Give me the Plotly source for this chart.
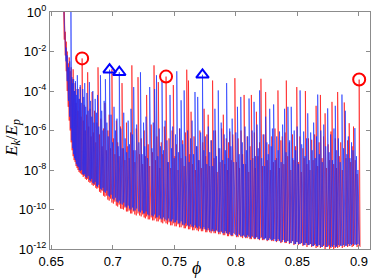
import plotly.graph_objects as go

# ---------------- data (log10 of E_k/E_p) ----------------
red_phi = [
    0.6598, 0.6606, 0.6614, 0.6622, 0.6630, 0.6638, 0.6646, 0.6654, 0.6662, 0.6670,
    0.6678, 0.6686, 0.6694, 0.6702, 0.6710, 0.6718, 0.6726, 0.6735, 0.6743, 0.6751,
    0.6760, 0.6768, 0.6777, 0.6787, 0.6796, 0.6805, 0.6815, 0.6824, 0.6832, 0.6842,
    0.6852, 0.6862, 0.6871, 0.6880, 0.6892, 0.6903, 0.6914, 0.6925, 0.6936, 0.6948,
    0.6960, 0.6971, 0.6982, 0.6993, 0.7005, 0.7017, 0.7029, 0.7040, 0.7052, 0.7063,
    0.7075, 0.7087, 0.7099, 0.7111, 0.7122, 0.7134, 0.7145, 0.7155, 0.7167, 0.7179,
    0.7191, 0.7205, 0.7218, 0.7231, 0.7243, 0.7255, 0.7265, 0.7275, 0.7288, 0.7300,
    0.7312, 0.7323, 0.7335, 0.7347, 0.7358, 0.7370, 0.7382, 0.7394, 0.7406, 0.7419,
    0.7433, 0.7445, 0.7457, 0.7470, 0.7482, 0.7492, 0.7505, 0.7517, 0.7530, 0.7542,
    0.7555, 0.7568, 0.7580, 0.7590, 0.7601, 0.7615, 0.7626, 0.7636, 0.7648, 0.7660,
    0.7672, 0.7684, 0.7696, 0.7708, 0.7720, 0.7731, 0.7742, 0.7755, 0.7765, 0.7775,
    0.7787, 0.7799, 0.7811, 0.7823, 0.7835, 0.7848, 0.7860, 0.7872, 0.7885, 0.7898,
    0.7910, 0.7922, 0.7932, 0.7941, 0.7951, 0.7963, 0.7975, 0.7992, 0.8005, 0.8018,
    0.8030, 0.8042, 0.8055, 0.8067, 0.8080, 0.8092, 0.8105, 0.8115, 0.8126, 0.8138,
    0.8150, 0.8158, 0.8167, 0.8180, 0.8192, 0.8204, 0.8216, 0.8228, 0.8242, 0.8255,
    0.8268, 0.8280, 0.8292, 0.8305, 0.8318, 0.8330, 0.8342, 0.8354, 0.8366, 0.8377,
    0.8390, 0.8400, 0.8410, 0.8422, 0.8435, 0.8447, 0.8460, 0.8472, 0.8484, 0.8495,
    0.8508, 0.8520, 0.8532, 0.8545, 0.8555, 0.8565, 0.8578, 0.8590, 0.8603, 0.8616,
    0.8628, 0.8640, 0.8652, 0.8665, 0.8676, 0.8687, 0.8700, 0.8712, 0.8725, 0.8737,
    0.8750, 0.8762, 0.8773, 0.8781, 0.8795, 0.8808, 0.8818, 0.8827, 0.8840, 0.8852,
    0.8865, 0.8881, 0.8895, 0.8908, 0.8921, 0.8933, 0.8945, 0.8956, 0.8970, 0.8985,
    0.9002, 0.9010,
]
red_peak_log = [
    0.5, 0.3, -1.0, -1.5, -2.0, -2.6, -2.3, -3.0, -2.8, -3.4,
    -2.9, -4.0, -3.6, -4.6, -3.9, -5.0, -4.4, -3.8, -5.3, -2.35,
    -5.5, -4.7, -6.0, -5.2, -3.05, -5.8, -4.9, -6.3, -4.05, -6.1,
    -5.0, -6.6, -5.6, -2.8, -6.2, -5.4, -6.8, -5.9, -4.6, -7.0,
    -6.0, -5.2, -6.9, -2.9, -6.4, -7.2, -5.5, -6.6, -7.3, -5.8,
    -3.6, -6.9, -7.5, -5.6, -6.8, -7.4, -6.1, -2.7, -7.0, -7.6,
    -5.9, -3.3, -7.2, -6.4, -7.7, -6.0, -7.3, -4.2, -6.7, -7.8,
    -5.7, -7.1, -2.7, -7.5, -6.3, -3.55, -7.9, -6.6, -7.2, -5.8,
    -3.27, -7.6, -6.4, -7.9, -6.0, -3.7, -7.3, -6.7, -8.0, -5.9,
    -7.4, -6.5, -7.8, -6.1, -2.92, -3.47, -7.2, -5.05, -7.7, -6.3,
    -8.0, -6.8, -7.5, -6.0, -7.9, -6.6, -4.9, -7.3, -6.2, -5.2,
    -7.8, -6.5, -3.47, -7.4, -6.0, -8.1, -6.9, -7.6, -5.9, -5.2,
    -7.7, -6.4, -8.0, -6.6, -6.05, -7.5, -6.2, -3.35, -7.6, -6.4,
    -7.9, -6.0, -7.2, -4.2, -7.7, -6.3, -8.1, -6.8, -4.2, -7.4,
    -6.1, -7.9, -5.05, -7.3, -6.6, -3.38, -7.8, -6.2, -4.05, -7.5,
    -6.7, -8.0, -6.3, -7.6, -5.9, -7.4, -3.97, -7.9, -6.5, -6.3,
    -7.7, -6.1, -3.47, -7.3, -6.6, -8.0, -6.2, -7.5, -6.8, -3.8,
    -7.6, -6.3, -8.1, -6.9, -7.4, -4.0, -7.7, -6.4, -8.0, -6.47,
    -7.5, -6.2, -4.75, -7.8, -6.6, -4.2, -7.4, -6.3, -5.13, -7.9,
    -6.7, -7.5, -6.05, -4.55, -7.7, -6.4, -7.9, -4.05, -7.3, -6.6,
    -8.0, -4.58, -7.4, -6.5, -5.63, -7.6, -6.8, -5.8, -7.5, -8.2,
    -3.42, -11.9,
]
red_base_log = [
    0.5, -1.4, -2.2, -3.0, -4.0, -4.8, -5.5, -6.0, -6.6, -7.0,
    -7.3, -7.5, -7.6, -7.8, -7.9, -8.0, -8.1, -8.15, -8.2, -8.25,
    -8.35, -8.3, -8.45, -8.5, -8.45, -8.6, -8.65, -8.6, -8.75, -8.8,
    -8.75, -8.9, -8.95, -8.9, -9.1, -9.15, -9.05, -9.3, -9.35, -9.3,
    -9.5, -9.55, -9.45, -9.65, -9.7, -9.6, -9.8, -9.85, -9.75, -9.95,
    -9.97, -10.0, -9.9, -10.1, -10.1, -10.05, -10.2, -10.2, -10.1, -10.25,
    -10.3, -10.2, -10.3, -10.35, -10.25, -10.4, -10.45, -10.35, -10.5, -10.5,
    -10.4, -10.55, -10.55, -10.45, -10.6, -10.6, -10.5, -10.65, -10.7, -10.6,
    -10.7, -10.75, -10.65, -10.8, -10.8, -10.7, -10.85, -10.85, -10.75, -10.9,
    -10.9, -10.8, -10.95, -10.95, -10.85, -11.0, -11.0, -10.9, -11.05, -11.05,
    -10.95, -11.05, -11.1, -11.0, -11.1, -11.1, -11.0, -11.15, -11.15, -11.05,
    -11.15, -11.2, -11.1, -11.2, -11.2, -11.1, -11.25, -11.25, -11.15, -11.3,
    -11.3, -11.2, -11.35, -11.35, -11.25, -11.35, -11.35, -11.25, -11.4, -11.4,
    -11.3, -11.4, -11.45, -11.35, -11.45, -11.45, -11.35, -11.5, -11.5, -11.4,
    -11.5, -11.5, -11.4, -11.5, -11.55, -11.45, -11.55, -11.55, -11.45, -11.6,
    -11.55, -11.5, -11.6, -11.6, -11.5, -11.65, -11.6, -11.55, -11.7, -11.65,
    -11.55, -11.7, -11.7, -11.6, -11.75, -11.7, -11.6, -11.8, -11.75, -11.65,
    -11.8, -11.75, -11.7, -11.85, -11.8, -11.7, -11.9, -11.8, -11.75, -11.9,
    -11.85, -11.8, -11.95, -11.9, -11.8, -11.95, -11.9, -11.85, -12.0, -11.9,
    -11.85, -12.0, -11.95, -11.85, -12.0, -11.95, -11.85, -11.95, -11.9, -11.8,
    -11.95, -11.9, -11.8, -11.9, -11.85, -11.75, -11.9, -11.85, -11.75, -11.9,
    -11.85, -11.9,
]

blue_phi = [
    0.6600, 0.6610, 0.6620, 0.6630, 0.6640, 0.6650, 0.6660, 0.6668, 0.6675, 0.6682,
    0.6690, 0.6697, 0.6704, 0.6712, 0.6720, 0.6728, 0.6736, 0.6744, 0.6756, 0.6764,
    0.6772, 0.6780, 0.6790, 0.6800, 0.6810, 0.6820, 0.6829, 0.6838, 0.6847, 0.6857,
    0.6867, 0.6876, 0.6886, 0.6900, 0.6910, 0.6920, 0.6930, 0.6940, 0.6952, 0.6963,
    0.6974, 0.6986, 0.6998, 0.7010, 0.7022, 0.7034, 0.7044, 0.7053, 0.7065, 0.7077,
    0.7089, 0.7101, 0.7113, 0.7125, 0.7136, 0.7148, 0.7160, 0.7170, 0.7182, 0.7194,
    0.7212, 0.7225, 0.7238, 0.7250, 0.7260, 0.7270, 0.7283, 0.7294, 0.7300, 0.7318,
    0.7329, 0.7340, 0.7355, 0.7366, 0.7377, 0.7388, 0.7400, 0.7412, 0.7425, 0.7440,
    0.7452, 0.7465, 0.7477, 0.7487, 0.7499, 0.7510, 0.7520, 0.7533, 0.7545, 0.7555,
    0.7568, 0.7580, 0.7592, 0.7608, 0.7620, 0.7632, 0.7644, 0.7656, 0.7668, 0.7680,
    0.7690, 0.7702, 0.7714, 0.7729, 0.7740, 0.7752, 0.7764, 0.7776, 0.7788, 0.7800,
    0.7812, 0.7821, 0.7830, 0.7843, 0.7857, 0.7869, 0.7881, 0.7893, 0.7905, 0.7915,
    0.7925, 0.7938, 0.7950, 0.7960, 0.7970, 0.7983, 0.8000, 0.8013, 0.8027, 0.8040,
    0.8052, 0.8062, 0.8074, 0.8086, 0.8096, 0.8107, 0.8120, 0.8132, 0.8148, 0.8160,
    0.8172, 0.8182, 0.8193, 0.8210, 0.8222, 0.8234, 0.8242, 0.8252, 0.8263, 0.8275,
    0.8287, 0.8297, 0.8307, 0.8320, 0.8332, 0.8344, 0.8355, 0.8368, 0.8380, 0.8396,
    0.8408, 0.8423, 0.8437, 0.8450, 0.8462, 0.8474, 0.8486, 0.8498, 0.8510, 0.8522,
    0.8535, 0.8551, 0.8562, 0.8574, 0.8584, 0.8596, 0.8608, 0.8620, 0.8632, 0.8645,
    0.8655, 0.8665, 0.8678, 0.8690, 0.8702, 0.8714, 0.8730, 0.8746, 0.8758, 0.8770,
    0.8785, 0.8797, 0.8808, 0.8820, 0.8833, 0.8848, 0.8862, 0.8875, 0.8889, 0.8902,
    0.8914, 0.8927, 0.8940, 0.8952, 0.8967, 0.8980, 0.8992, 0.9005,
]
blue_peak_log = [
    0.5, -0.6, -1.8, -2.2, -2.8, -2.5, 0.3, -3.3, -3.6, -3.4,
    -4.0, -3.5, -4.2, -3.2, -3.9, -4.4, -3.7, -4.6, -3.9, -4.3,
    -3.6, -4.8, -4.1, -5.0, -3.55, -4.5, -5.3, -4.0, -5.6, -4.4,
    -5.1, -4.2, -5.8, -3.2, -5.0, -6.0, -4.5, -3.4, -5.6, -6.3,
    -2.92, -5.2, -6.6, -4.8, -6.0, -5.4, -6.8, -3.05, -5.9, -6.9,
    -5.1, -6.4, -7.1, -5.5, -6.7, -4.9, -6.2, -3.8, -7.0, -5.7,
    -6.6, -3.05, -7.2, -5.6, -6.8, -5.3, -7.4, -6.0, -3.8, -6.9,
    -5.6, -3.9, -3.2, -7.3, -5.9, -6.8, -3.45, -7.0, -5.5, -6.5,
    -7.6, -4.2, -6.9, -5.8, -7.4, -6.2, -3.0, -7.1, -5.9, -4.47,
    -6.7, -3.97, -7.3, -6.0, -7.6, -6.4, -5.5, -7.2, -4.05, -6.8,
    -4.3, -7.5, -6.1, -3.18, -7.0, -6.3, -7.7, -5.8, -7.1, -6.5,
    -7.8, -6.0, -4.9, -7.3, -3.97, -6.9, -5.6, -7.5, -6.2, -7.0,
    -3.6, -7.4, -5.9, -6.8, -5.4, -7.6, -6.1, -4.8, -7.2, -4.3,
    -6.6, -7.7, -5.8, -7.0, -6.3, -4.38, -7.5, -6.0, -4.55, -7.3,
    -5.7, -6.9, -3.97, -7.4, -6.2, -7.8, -5.3, -6.6, -7.2, -4.9,
    -6.8, -5.9, -4.68, -7.5, -6.3, -7.0, -6.05, -7.6, -5.7, -4.9,
    -7.1, -4.8, -6.5, -4.8, -7.4, -6.0, -7.0, -5.8, -7.7, -3.97,
    -6.7, -6.05, -7.3, -6.4, -5.13, -7.5, -6.1, -7.0, -5.6, -7.4,
    -6.3, -4.18, -7.2, -6.0, -7.6, -5.7, -6.8, -4.88, -7.1, -6.2,
    -7.5, -5.9, -4.75, -7.0, -6.4, -7.6, -4.18, -6.9, -5.0, -7.2,
    -6.3, -7.4, -6.6, -7.0, -5.88, -7.3, -8.0, -11.8,
]
blue_base_log = [
    0.5, -1.5, -2.5, -3.5, -4.5, -5.3, -5.9, -6.5, -6.9, -7.2,
    -7.4, -7.5, -7.7, -7.8, -7.85, -8.0, -8.05, -8.0, -8.2, -8.25,
    -8.2, -8.35, -8.4, -8.3, -8.5, -8.55, -8.45, -8.65, -8.7, -8.6,
    -8.8, -8.85, -8.75, -8.95, -9.0, -8.9, -9.1, -9.15, -9.05, -9.3,
    -9.35, -9.25, -9.45, -9.5, -9.4, -9.6, -9.65, -9.55, -9.7, -9.75,
    -9.65, -9.85, -9.9, -9.8, -9.95, -10.0, -9.9, -10.05, -10.05, -9.95,
    -10.1, -10.15, -10.05, -10.2, -10.2, -10.1, -10.25, -10.3, -10.2, -10.3,
    -10.35, -10.25, -10.4, -10.4, -10.3, -10.45, -10.5, -10.4, -10.5, -10.55,
    -10.45, -10.6, -10.6, -10.5, -10.65, -10.65, -10.55, -10.7, -10.7, -10.6,
    -10.75, -10.8, -10.7, -10.8, -10.85, -10.75, -10.85, -10.9, -10.8, -10.9,
    -10.95, -10.85, -10.95, -11.0, -10.9, -11.0, -11.05, -10.95, -11.05, -11.1,
    -11.0, -11.1, -11.1, -11.05, -11.15, -11.15, -11.1, -11.2, -11.2, -11.1,
    -11.2, -11.25, -11.15, -11.3, -11.3, -11.2, -11.3, -11.35, -11.25, -11.35,
    -11.35, -11.3, -11.4, -11.4, -11.3, -11.4, -11.45, -11.35, -11.45, -11.45,
    -11.4, -11.5, -11.5, -11.4, -11.5, -11.5, -11.45, -11.55, -11.55, -11.45,
    -11.55, -11.55, -11.5, -11.6, -11.6, -11.5, -11.6, -11.65, -11.55, -11.65,
    -11.65, -11.6, -11.7, -11.7, -11.6, -11.75, -11.75, -11.65, -11.75, -11.75,
    -11.7, -11.8, -11.8, -11.7, -11.8, -11.8, -11.75, -11.85, -11.85, -11.75,
    -11.85, -11.85, -11.8, -11.9, -11.9, -11.8, -11.9, -11.9, -11.8, -11.9,
    -11.9, -11.8, -11.9, -11.9, -11.8, -11.85, -11.85, -11.8, -11.85, -11.85,
    -11.75, -11.85, -11.8, -11.75, -11.8, -11.8, -11.75, -11.8,
]

red_mark_phi = [0.6751, 0.7433, 0.9002]
red_mark_log = [-2.35, -3.27, -3.42]
blue_mark_phi = [0.6974, 0.7053, 0.7729]
blue_mark_log = [-2.92, -3.05, -3.18]

x_tick_vals = [0.65, 0.7, 0.75, 0.8, 0.85, 0.9]
x_tick_text = ["0.65", "0.7", "0.75", "0.8", "0.85", "0.9"]
y_tick_exp = [-12, -10, -8, -6, -4, -2, 0]

assert len(red_phi) == len(red_peak_log) == len(red_base_log)
assert len(blue_phi) == len(blue_peak_log) == len(blue_base_log)


def spike_path(phi, peak, base):
    xs, ys = [], []
    for p, pk, b in zip(phi, peak, base):
        xs.extend([p, p])
        ys.extend([10 ** b, 10 ** pk])
    return xs, ys


rx, ry = spike_path(red_phi, red_peak_log, red_base_log)
bx, by = spike_path(blue_phi, blue_peak_log, blue_base_log)

fig = go.Figure()
fig.add_trace(go.Scatter(x=rx, y=ry, mode="lines",
                         line=dict(color="rgba(255,0,0,0.6)", width=1)))
fig.add_trace(go.Scatter(x=bx, y=by, mode="lines",
                         line=dict(color="rgba(20,45,255,0.62)", width=1)))
fig.add_trace(go.Scatter(x=red_mark_phi, y=[10 ** v for v in red_mark_log],
                         mode="markers", cliponaxis=False,
                         marker=dict(symbol="circle-open", size=12, color="red",
                                     line=dict(width=2, color="red"))))
fig.add_trace(go.Scatter(x=blue_mark_phi, y=[10 ** v for v in blue_mark_log],
                         mode="markers", cliponaxis=False,
                         marker=dict(symbol="triangle-up-open", size=11, color="blue",
                                     line=dict(width=2, color="blue"))))

axis_common = dict(showline=True, linecolor="#8c8c8c", linewidth=1, mirror="ticks",
                   ticks="inside", ticklen=4, tickcolor="#8c8c8c", showgrid=False,
                   zeroline=False)

fig.update_layout(
    width=374, height=279,
    margin=dict(l=50, r=3, t=9, b=30),
    plot_bgcolor="white", paper_bgcolor="white",
    showlegend=False,
    font=dict(family="Liberation Sans, Arial, sans-serif", size=13, color="black"),
    xaxis=dict(range=[0.6490, 0.9090], tickmode="array", tickvals=x_tick_vals,
               ticktext=x_tick_text, tickfont=dict(size=13), **axis_common),
    yaxis=dict(type="log", range=[-12, 0], tickmode="array",
               tickvals=[10 ** e for e in y_tick_exp],
               ticktext=["10<sup>%d</sup>" % e for e in y_tick_exp],
               tickfont=dict(size=13), **axis_common),
    annotations=[
        dict(text="<i>E</i><sub><i>k</i></sub>/<i>E</i><sub><i>p</i></sub>",
             xref="paper", yref="paper", x=-0.118, y=0.47, textangle=-90,
             showarrow=False, font=dict(size=17, family="Liberation Serif, serif"),
             xanchor="center", yanchor="middle"),
        dict(text="<i>ϕ</i>", xref="paper", yref="paper", x=0.458, y=-0.08,
             showarrow=False, font=dict(size=18, family="Liberation Serif, serif"),
             xanchor="center", yanchor="middle"),
    ],
)

fig.write_html("out.html", config={"displayModeBar": False},
               post_script="document.body.style.margin='0';document.body.style.padding='0';")
